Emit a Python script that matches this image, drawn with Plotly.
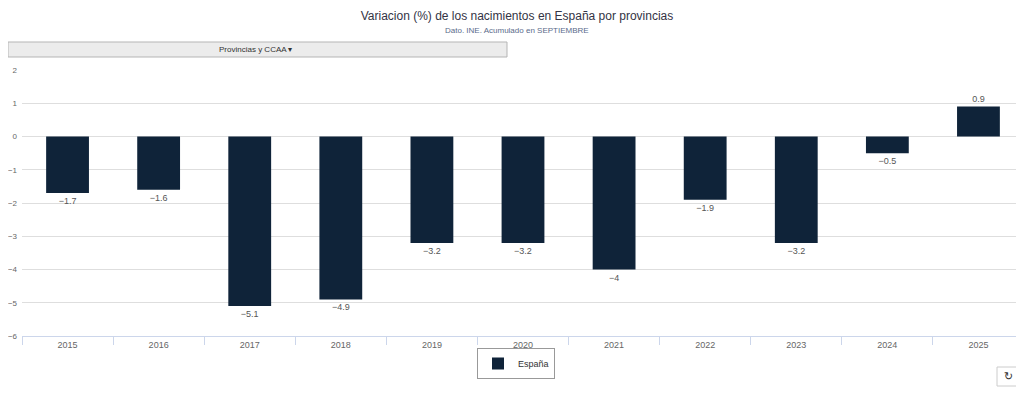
import plotly.graph_objects as go

years = ["2015", "2016", "2017", "2018", "2019", "2020", "2021", "2022", "2023", "2024", "2025"]
espana = [-1.7, -1.6, -5.1, -4.9, -3.2, -3.2, -4.0, -1.9, -3.2, -0.5, 0.9]
y_ticks = [2, 1, 0, -1, -2, -3, -4, -5, -6]

BAR = "#0f2339"
FONT = "Liberation Sans, Arial, sans-serif"

# page body has an 8px margin: figure origin sits at screen (8, 8)
OFF = 8
W, H = 1024 - OFF, 395 - OFF
PL, PT, PB = 22, 70, 336  # plot area in screen pixels


def px(x):
    return (x - PL) / 1002


def py(y):
    return (PB - y) / (PB - PT)


fig = go.Figure()
fig.add_trace(go.Bar(
    x=years, y=espana, name="España",
    marker=dict(color=BAR, line=dict(width=0)),
    texttemplate="%{y}", textposition="outside", cliponaxis=False,
    textfont=dict(size=9, color="#555555", family=FONT),
))

fig.update_layout(
    width=W, height=H,
    margin=dict(l=PL - OFF, r=0, t=PT - OFF, b=395 - PB),
    paper_bgcolor="white", plot_bgcolor="white",
    font=dict(family=FONT, size=9, color="#666666"),
    bargap=0.53,
    showlegend=True,
    legend=dict(
        orientation="h", x=px(516), y=py(348), xanchor="center", yanchor="top",
        bordercolor="#999999", borderwidth=1, bgcolor="white",
        font=dict(size=9, color="#333333", family=FONT),
        itemwidth=30, itemsizing="constant", tracegroupgap=0,
    ),
    xaxis=dict(
        type="category", showgrid=False, ticks="outside", tickson="boundaries",
        ticklen=8, tickcolor="#ccd6eb", showline=True, linecolor="#ccd6eb",
        linewidth=1, tickfont=dict(size=9, color="#666666"), fixedrange=True,
    ),
    yaxis=dict(
        range=[-6, 2], tickvals=y_ticks, showgrid=True, gridcolor="#dedede",
        gridwidth=1, zeroline=False, showline=False, ticks="",
        tickfont=dict(size=8, color="#666666"), ticklabelstandoff=4,
        fixedrange=True,
    ),
    title=dict(
        text="Variacion (%) de los nacimientos en España por provincias",
        x=(517 - OFF) / W, xanchor="center", y=1 - (16 - OFF) / H, yanchor="middle",
        font=dict(size=12, color="#333344", family=FONT),
    ),
    annotations=[
        dict(text="Dato. INE. Acumulado en SEPTIEMBRE", xref="paper", yref="paper",
             x=px(517), y=py(31), xanchor="center", yanchor="middle",
             showarrow=False, font=dict(size=8, color="#5a6b8a", family=FONT)),
        dict(text="Provincias y CCAA ▾", xref="paper", yref="paper",
             x=px(255), y=py(49.5), xanchor="center", yanchor="middle",
             showarrow=False, font=dict(size=8, color="#333333", family=FONT)),
        dict(text="↻", xref="paper", yref="paper",
             x=px(1008.5), y=py(376.5), xanchor="center", yanchor="middle",
             showarrow=False, font=dict(size=11, color="#333333", family="DejaVu Sans")),
    ],
    shapes=[
        dict(type="rect", xref="paper", yref="paper",
             x0=px(OFF), x1=px(507), y0=py(57), y1=py(42),
             fillcolor="#ececec", line=dict(color="#b5b5b5", width=1), layer="above"),
        dict(type="rect", xref="paper", yref="paper",
             x0=px(997), x1=px(1020), y0=py(386), y1=py(367),
             fillcolor="white", line=dict(color="#cccccc", width=1), layer="above"),
    ],
)

fig.write_html("out.html", config={"displayModeBar": False})
